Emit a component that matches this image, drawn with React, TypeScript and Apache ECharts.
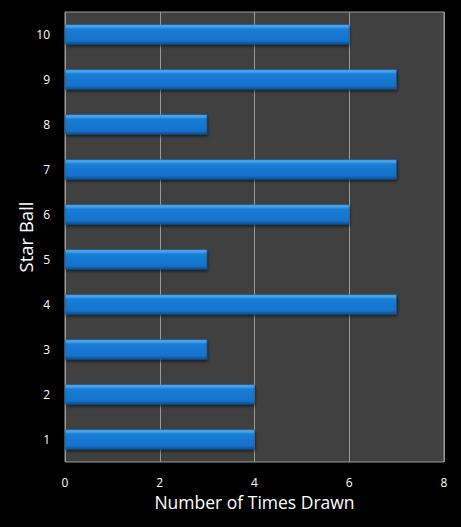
import { useEffect, useRef } from 'react'
import * as echarts from 'echarts'

const balls = ['1', '2', '3', '4', '5', '6', '7', '8', '9', '10']
const timesDrawn = [4, 4, 3, 7, 3, 6, 7, 3, 7, 6]
const xTicks = [0, 2, 4, 6, 8]

export default function App() {
  const elRef = useRef<HTMLDivElement>(null)

  useEffect(() => {
    if (!elRef.current) return
    document.body.style.margin = '0'
    const chart = echarts.init(elRef.current, null, { renderer: 'svg' })

    const barColor = new echarts.graphic.LinearGradient(0, 0, 0, 1, [
      { offset: 0, color: '#63b6f2' },
      { offset: 0.14, color: '#3598e6' },
      { offset: 0.22, color: '#1a7dd6' },
      { offset: 0.82, color: '#1672cb' },
      { offset: 1, color: '#0d4f92' },
    ])

    chart.setOption({
      animation: false,
      backgroundColor: '#000',
      textStyle: { fontFamily: '"Open Sans", "DejaVu Sans", sans-serif' },
      grid: {
        show: true,
        left: 65,
        right: 17,
        top: 12,
        bottom: 65,
        backgroundColor: '#404040',
        borderColor: '#9a9a9a',
        borderWidth: 1,
      },
      xAxis: {
        type: 'value',
        min: xTicks[0],
        max: xTicks[xTicks.length - 1],
        interval: 2,
        name: 'Number of Times Drawn',
        nameLocation: 'middle',
        nameGap: 31,
        nameTextStyle: { color: '#fff', fontSize: 17.5 },
        axisLine: { show: false },
        axisTick: { show: false },
        axisLabel: { color: '#fff', fontSize: 12, margin: 14 },
        splitLine: { lineStyle: { color: '#9a9a9a', width: 1 } },
      },
      yAxis: {
        type: 'category',
        data: balls,
        name: 'Star Ball',
        nameLocation: 'middle',
        nameGap: 30,
        nameMoveOverlap: false,
        nameRotate: 90,
        nameTextStyle: { color: '#fff', fontSize: 18.5 },
        axisLine: { show: false },
        axisTick: { show: false },
        axisLabel: { color: '#fff', fontSize: 12, margin: 15 },
        splitLine: { show: false },
      },
      series: [
        {
          type: 'bar',
          data: timesDrawn,
          barWidth: '44%',
          itemStyle: {
            color: barColor,
            borderColor: '#0e5aa6',
            borderWidth: 0.5,
            shadowColor: 'rgba(0, 0, 0, 0.55)',
            shadowBlur: 3,
            shadowOffsetX: 1,
            shadowOffsetY: 2,
          },
        },
      ],
    })

    return () => chart.dispose()
  }, [])

  return <div ref={elRef} style={{ width: 461, height: 527 }} />
}
